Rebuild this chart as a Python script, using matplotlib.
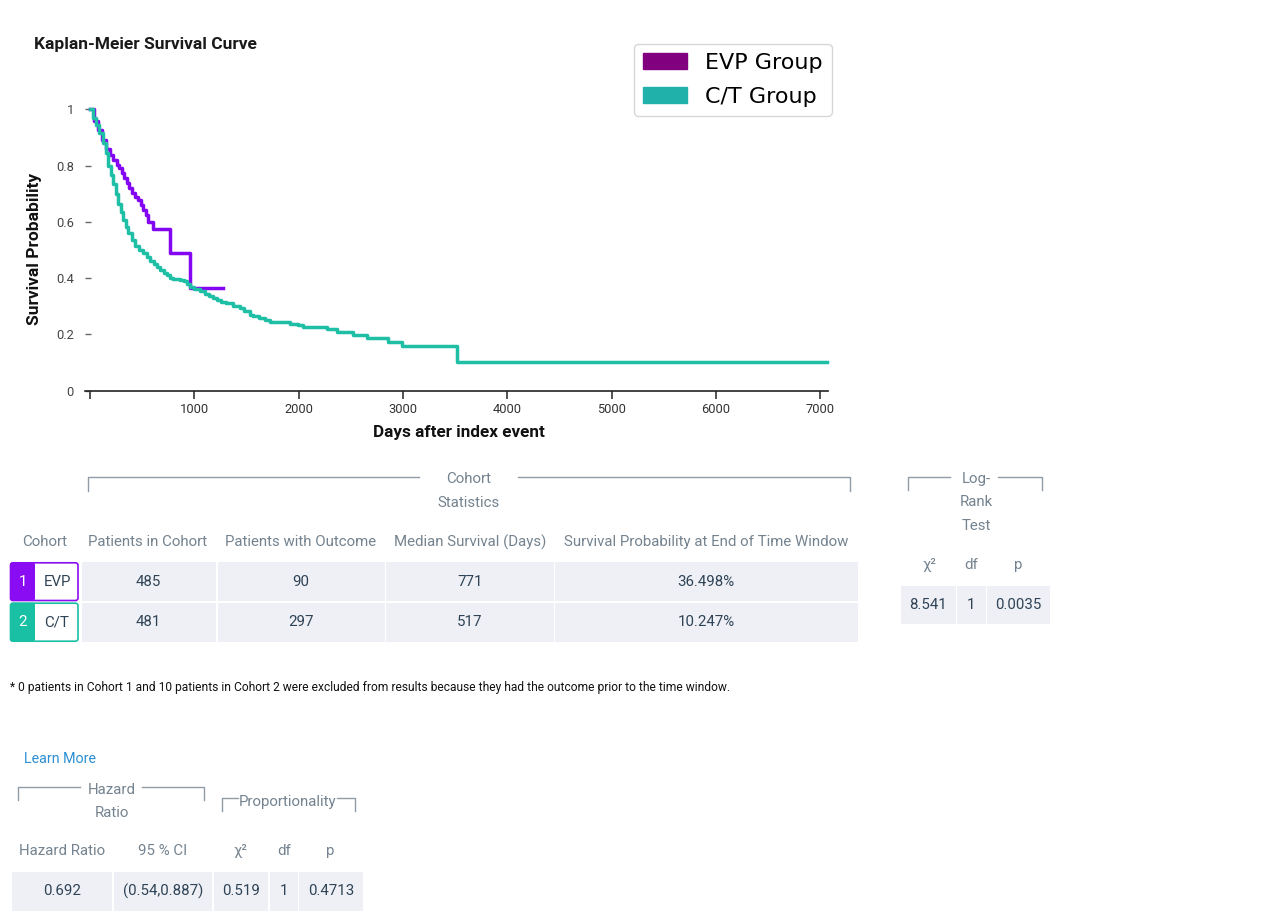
import matplotlib
matplotlib.use("Agg")
import matplotlib.pyplot as plt
from matplotlib.patches import Rectangle, FancyBboxPatch, Patch

W, H = 1271, 922
FONT = ['Roboto', 'DejaVu Sans']

# ---------------- data ----------------
evp_days = [0, 40, 80, 112, 150, 192, 225, 256, 280, 304, 330, 352, 375, 400, 430, 463,
            490, 511, 535, 560, 607, 767, 959]
evp_surv = [1.0, 0.96, 0.925, 0.89, 0.86, 0.838, 0.82, 0.802, 0.79, 0.773, 0.755, 0.737,
            0.72, 0.702, 0.69, 0.678, 0.66, 0.642, 0.625, 0.60, 0.575, 0.49, 0.365]
evp_end = 1272

ct_days = [0, 30, 60, 90, 120, 150, 176, 200, 224, 250, 272, 296, 320, 344, 368, 400, 431,
           470, 511, 543, 580, 610, 639, 671, 710, 740, 767, 800, 863, 900, 930, 959, 1000,
           1055, 1100, 1140, 1182, 1215, 1260, 1300, 1374, 1438, 1480, 1534, 1566, 1620,
           1680, 1726, 1918, 1990, 2045, 2269, 2365, 2525, 2653, 2861, 2989, 3520]
ct_surv = [1.0, 0.97, 0.945, 0.915, 0.88, 0.845, 0.80, 0.765, 0.735, 0.70, 0.665, 0.635,
           0.605, 0.58, 0.56, 0.535, 0.515, 0.50, 0.49, 0.476, 0.462, 0.45, 0.44, 0.429,
           0.418, 0.41, 0.402, 0.398, 0.395, 0.39, 0.38, 0.37, 0.362, 0.355, 0.345, 0.338,
           0.33, 0.322, 0.315, 0.31, 0.30, 0.293, 0.283, 0.27, 0.265, 0.258, 0.25, 0.245,
           0.237, 0.232, 0.226, 0.22, 0.21, 0.198, 0.186, 0.174, 0.159, 0.1025]
ct_end = 7070

x_ticks = [0, 1000, 2000, 3000, 4000, 5000, 6000, 7000]
x_tick_labels = ['', '1000', '2000', '3000', '4000', '5000', '6000', '7000']
y_ticks = [0, 0.2, 0.4, 0.6, 0.8, 1.0]
y_tick_labels = ['0', '0.2', '0.4', '0.6', '0.8', '1']

legend_labels = ['EVP Group', 'C/T Group']

cohort_ids = ['1', '2']
cohort_names = ['EVP', 'C/T']
table_headers = ['Cohort', 'Patients in Cohort', 'Patients with Outcome',
                 'Median Survival (Days)', 'Survival Probability at End of Time Window']
patients_in_cohort = ['485', '481']
patients_with_outcome = ['90', '297']
median_survival = ['771', '517']
end_survival = ['36.498%', '10.247%']

logrank_headers = ['χ²', 'df', 'p']
logrank_values = ['8.541', '1', '0.0035']

hr_headers = ['Hazard Ratio', '95 % CI', 'χ²', 'df', 'p']
hr_values = ['0.692', '(0.54,0.887)', '0.519', '1', '0.4713']

footnote = ('* 0 patients in Cohort 1 and 10 patients in Cohort 2 were excluded from results '
            'because they had the outcome prior to the time window.')

# ---------------- colours ----------------
EVP_LINE = '#8405f2'
CT_LINE = '#1fbfa6'
EVP_BOX = '#8a0cf2'
CT_BOX = '#19c0a4'
CELL = '#eef0f5'
HEAD = '#74838f'
VAL = '#2f4356'
BRK = '#8f9ca8'

fig = plt.figure(figsize=(W / 100, H / 100), dpi=100)
fig.patch.set_facecolor('white')

# overlay in pixel coordinates for the tables
ov = fig.add_axes([0, 0, 1, 1])
ov.set_xlim(0, W)
ov.set_ylim(H, 0)
ov.axis('off')

# ---------------- KM plot ----------------
px_per_day = 0.1043
ax_left_px, ax_right_px = 85, 828
x0_day = -(90 - ax_left_px) / px_per_day
x1_day = (ax_right_px - 90) / px_per_day
y0_px, y1_px = 390.7, 109.3
ax = fig.add_axes([ax_left_px / W, (H - y0_px) / H, (ax_right_px - ax_left_px) / W,
                   (y0_px - y1_px) / H])
ax.set_facecolor('none')
ax.set_xlim(x0_day, x1_day)
ax.set_ylim(0, 1)

ax.step(evp_days + [evp_end], evp_surv + [evp_surv[-1]], where='post', color=EVP_LINE,
        lw=2.5, clip_on=False, zorder=3)
ax.step(ct_days + [ct_end], ct_surv + [ct_surv[-1]], where='post', color=CT_LINE,
        lw=2.5, clip_on=False, zorder=4)

for s in ['left', 'top', 'right']:
    ax.spines[s].set_visible(False)
ax.spines['bottom'].set_color('#222222')
ax.spines['bottom'].set_linewidth(1.2)

ax.set_xticks(x_ticks)
ax.set_xticklabels(x_tick_labels, fontfamily=FONT, fontsize=9.3, color='#333333')
ax.set_yticks(y_ticks)
ax.set_yticklabels(y_tick_labels, fontfamily=FONT, fontsize=9.3, color='#444444')
ax.tick_params(axis='x', direction='out', length=6, width=1.1, color='#222222', pad=3)
ax.tick_params(axis='y', direction='in', length=4, width=1, color='#666666', pad=8)

ax.set_ylabel('Survival Probability', fontfamily=FONT, fontsize=12.5, fontweight='semibold',
              color='#111111')
ax.yaxis.set_label_coords((42 - ax_left_px) / (ax_right_px - ax_left_px),
                          (y0_px - 249) / (y0_px - y1_px))
ax.set_xlabel('Days after index event', fontfamily=FONT, fontsize=12.3, fontweight='semibold',
              color='#111111')
ax.xaxis.set_label_coords((459 - ax_left_px) / (ax_right_px - ax_left_px),
                          -(425 - y0_px) / (y0_px - y1_px))

fig.text(34 / W, 1 - 44 / H, 'Kaplan-Meier Survival Curve', fontfamily=FONT, fontsize=12.5,
         fontweight='semibold', color='#1a1a1a', ha='left', va='center')

handles = [Patch(facecolor='#800080', edgecolor='#800080'),
           Patch(facecolor='#20b2aa', edgecolor='#20b2aa')]
fig.legend(handles, legend_labels, loc='upper left', bbox_to_anchor=(634 / W, 1 - 44 / H),
           borderaxespad=0, frameon=True, fancybox=True, edgecolor='#cccccc',
           labelspacing=0.62, borderpad=0.4,
           prop={'family': 'DejaVu Sans', 'size': 16})


# ---------------- table helpers ----------------
def cell(x0, x1, y0, y1, color=CELL):
    ov.add_patch(Rectangle((x0, y0), x1 - x0, y1 - y0, facecolor=color, edgecolor='none'))


def txt(x, y, s, size=10.8, color=VAL, ha='center', weight='normal'):
    ov.text(x, y, s, fontfamily=FONT, fontsize=size, color=color, ha=ha, va='center',
            fontweight=weight)


def head(x, y, s):
    txt(x, y, s, color=HEAD)


def bracket(x0, x1, y, drop, g0, g1):
    ov.plot([x0, x0, g0], [y + drop, y, y], color=BRK, lw=1, solid_joinstyle='round')
    ov.plot([g1, x1, x1], [y, y, y + drop], color=BRK, lw=1, solid_joinstyle='round')


# ---------------- cohort statistics table ----------------
bracket(88.3, 850, 477, 14, 419, 518)
head(469, 479, 'Cohort')
head(469, 503, 'Statistics')

header_x = [45, 148, 301, 470, 706]
for hx, h in zip(header_x, table_headers):
    head(hx, 542, h)

col_edges = [(81.5, 216), (217.5, 384.5), (386, 553.5), (555, 857.5)]
row_edges = [(562.3, 601), (602.7, 641.7)]
box_cols = [EVP_BOX, CT_BOX]
columns = [patients_in_cohort, patients_with_outcome, median_survival, end_survival]
for r, (ry0, ry1) in enumerate(row_edges):
    yc = (ry0 + ry1) / 2
    ov.add_patch(FancyBboxPatch((10.5, ry0 + 0.5), 67.5, ry1 - ry0 - 1,
                                boxstyle='round,pad=0,rounding_size=2.5',
                                facecolor='white', edgecolor=box_cols[r], lw=1.2))
    ov.add_patch(FancyBboxPatch((10, ry0), 25, ry1 - ry0,
                                boxstyle='round,pad=0,rounding_size=2.5',
                                facecolor=box_cols[r], edgecolor='none'))
    txt(22.5, yc, cohort_ids[r], color='white')
    txt(57, yc, cohort_names[r], color=VAL)
    for c, (cx0, cx1) in enumerate(col_edges):
        cell(cx0, cx1, ry0, ry1)
        txt((cx0 + cx1) / 2, yc, columns[c][r])

# ---------------- log-rank table ----------------
bracket(908.3, 1041.7, 477.3, 13, 950, 998.3)
head(976, 479, 'Log-')
head(976, 502, 'Rank')
head(976, 526, 'Test')
lr_edges = [(901, 955.5), (957, 985.5), (987, 1050)]
lr_hx = [929, 971, 1018]
for (cx0, cx1), hx, h, v in zip(lr_edges, lr_hx, logrank_headers, logrank_values):
    head(hx, 565, h)
    cell(cx0, cx1, 586, 624)
    txt((cx0 + cx1) / 2, 605, v)

# ---------------- footnote ----------------
txt(10, 687, footnote, size=8.65, color='#111111', ha='left')

# ---------------- hazard ratio ----------------
txt(24, 759, 'Learn More', size=10.3, color='#2b8fd3', ha='left')
bracket(18.3, 204, 786.7, 13, 80, 141.7)
head(111.7, 790, 'Hazard')
head(111.7, 812.7, 'Ratio')
bracket(221.7, 355, 798.3, 13, 238, 337)
head(287.8, 801.7, 'Proportionality')

hr_edges = [(11.7, 112.3), (114.3, 211.7), (213.7, 268.3), (270, 297.7), (299.3, 362.7)]
hr_hx = [62, 163, 240, 284, 330]
for (cx0, cx1), hx, h, v in zip(hr_edges, hr_hx, hr_headers, hr_values):
    head(hx, 851, h)
    cell(cx0, cx1, 872.3, 910.7)
    txt((cx0 + cx1) / 2, 891, v)

fig.savefig('out.png', dpi=100, facecolor='white')
